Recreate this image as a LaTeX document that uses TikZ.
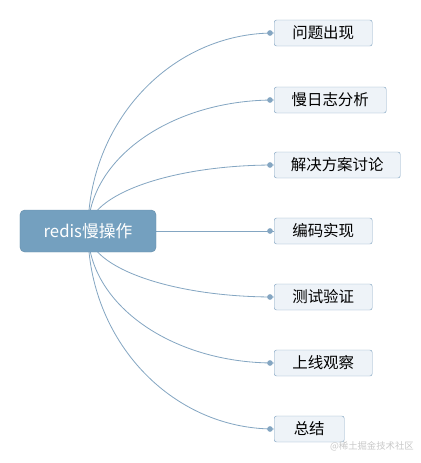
\documentclass[tikz,border=0pt]{standalone}
\usepackage{fontspec}
\setmainfont{Noto Sans CJK SC}
\usepackage{tikz}
\usetikzlibrary{positioning, backgrounds, calc}
\definecolor{rootblue}{RGB}{116,160,191}
\definecolor{linkblue}{RGB}{132,166,194}
\definecolor{leaffill}{RGB}{238,243,248}
\definecolor{markgray}{RGB}{200,200,200}

\begin{document}
\begin{tikzpicture}[x=0.03cm, y=-0.03cm,
  root/.style={rectangle, rounded corners=4pt, fill=rootblue, draw=rootblue!90!black,
               minimum width=4.08cm, minimum height=1.26cm, text=white,
               font=\fontsize{14.3}{16}\selectfont},
  leaf/.style={rectangle, rounded corners=2pt, draw=linkblue, fill=leaffill,
               minimum height=0.78cm, anchor=west, inner xsep=0.3cm,
               font=\fontsize{13.2}{15}\selectfont},
  link/.style={linkblue, line width=0.7pt},
  dot/.style={circle, fill=linkblue, inner sep=0pt, minimum size=0.17cm}
]
  \useasboundingbox (0,0) rectangle (421,463);

  \node[root] (root) at (88,231) {redis慢操作};

  \node[leaf, minimum width=2.94cm] (t1) at (274,33)  {问题出现};
  \node[leaf, minimum width=3.36cm] (t2) at (274,100) {慢日志分析};
  \node[leaf, minimum width=3.78cm] (t3) at (274,165) {解决方案讨论};
  \node[leaf, minimum width=2.94cm] (t4) at (274,231) {编码实现};
  \node[leaf, minimum width=2.94cm] (t5) at (274,297) {测试验证};
  \node[leaf, minimum width=2.94cm] (t6) at (274,363) {上线观察};
  \node[leaf, minimum width=2.10cm] (t7) at (274,429) {总结};

  % connectors: quarter ellipses, behind the root box
  \begin{scope}[on background layer]
  \foreach \t in {t1,t2,t3,t5,t6,t7}
    \draw[link] (root.center)
      .. controls ($(root.center)!0.5523!(root.center |- \t.west)$)
              and ($(\t.west)!0.5523!(root.center |- \t.west)$) .. (\t.west);
  \draw[link] (root.east) -- (t4.west);
  \end{scope}

  \foreach \t in {t1,t2,t3,t4,t5,t6,t7}
    \node[dot] at ([xshift=-0.12cm]\t.west) {};

  \node[text=markgray, font=\fontsize{8}{10}\selectfont, anchor=east] (mark) at (418,446) {@稀土掘金技术社区};
\end{tikzpicture}
\end{document}
